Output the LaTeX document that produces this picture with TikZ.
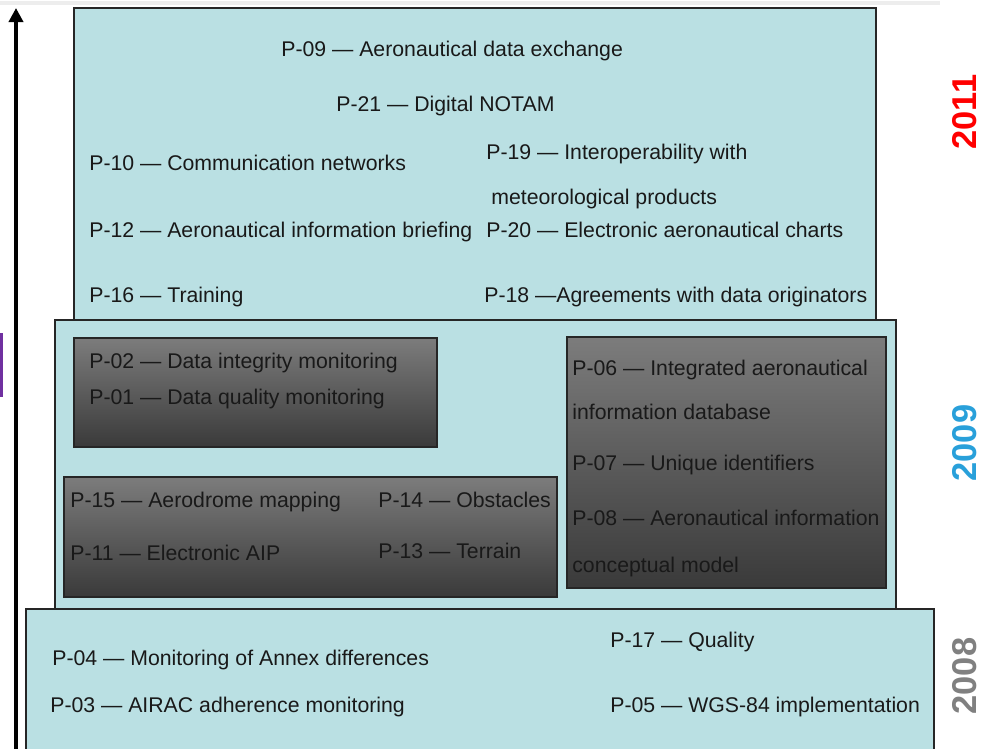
\documentclass[tikz,border=0pt]{standalone}
\usepackage{fontspec}
\setmainfont{Liberation Sans}
\usetikzlibrary{arrows.meta}
\definecolor{stagefill}{RGB}{186,224,227}
\definecolor{boxtop}{RGB}{124,124,124}
\definecolor{boxbot}{RGB}{58,58,58}
\definecolor{yearred}{RGB}{255,0,0}
\definecolor{yearblue}{RGB}{41,160,218}
\definecolor{yeargray}{RGB}{128,128,128}
\definecolor{tabpurple}{RGB}{112,48,160}
\tikzset{
  stagebox/.style={draw=black!85, line width=0.8pt, fill=stagefill},
  groupbox/.style={draw=black!85, line width=0.8pt, top color=boxtop, bottom color=boxbot},
  pitem/.style={anchor=base west, inner sep=0pt, font=\fontsize{12.1}{14}\selectfont, text=black!90},
  yearlabel/.style={rotate=90, inner sep=0pt, font=\fontsize{19.6}{22}\selectfont\bfseries},
}
\newcommand{\pnode}{\node[pitem]}
\newcommand{\yearnode}{\node[yearlabel]}

\begin{document}
\begin{tikzpicture}[x=0.02cm, y=-0.02cm]
  \useasboundingbox (0,0) rectangle (984,749);
  \fill[black!7] (0,1) rectangle (940,5);
  \fill[tabpurple] (0,333) rectangle (3,397);
  % stages
  \draw[stagebox] (74,8) rectangle (876,320);
  \draw[stagebox] (55,320) rectangle (896,609);
  \draw[stagebox] (26,609) rectangle (934,760);
  % groups of 2009
  \draw[groupbox] (74,338) rectangle (437,447);
  \draw[groupbox] (64,477) rectangle (557,597);
  \draw[groupbox] (567,337) rectangle (886,588);
  % time axis
  \coordinate (tbot) at (16,760);
  \coordinate (ttop) at (16,8);
  \draw[line width=2pt, -{Triangle[width=8pt,length=8pt]}] (tbot) -- (ttop);
  % 2011
  \pnode (p09) at (281,57) {P-09 — Aeronautical data exchange}; %
  \pnode (p21) at (336,112) {P-21 — Digital NOTAM}; %
  \pnode (p10) at (89,171) {P-10 — Communication networks};
  \pnode (p19) at (486,160) {P-19 — Interoperability with};
  \pnode (p19b) at (491,205) {meteorological products};
  \pnode (p12) at (89,238) {P-12 — Aeronautical information briefing};
  \pnode (p20) at (486,238) {P-20 — Electronic aeronautical charts};
  \pnode (p16) at (89,303) {P-16 — Training};
  \pnode (p18) at (484,303) {P-18 —Agreements with data originators};
  % 2009
  \pnode (p02) at (89,369) {P-02 — Data integrity monitoring};
  \pnode (p01) at (89,405) {P-01 — Data quality monitoring};
  \pnode (p06) at (572,376) {P-06 — Integrated aeronautical};
  \pnode (p06b) at (572,420) {information database};
  \pnode (p07) at (572,471) {P-07 — Unique identifiers};
  \pnode (p08) at (572,526) {P-08 — Aeronautical information};
  \pnode (p08b) at (572,573) {conceptual model};
  \pnode (p15) at (70,508) {P-15 — Aerodrome mapping};
  \pnode (p14) at (378,508) {P-14 — Obstacles};
  \pnode (p11) at (70,561) {P-11 — Electronic AIP};
  \pnode (p13) at (378,559) {P-13 — Terrain};
  % 2008
  \pnode (p04) at (52,665) {P-04 — Monitoring of Annex differences};
  \pnode (p03) at (50,712) {P-03 — AIRAC adherence monitoring};
  \pnode (p17) at (610,647) {P-17 — Quality};
  \pnode (p05) at (610,712) {P-05 — WGS-84 implementation};
  % years
  \yearnode[text=yearred] (y2011) at (965,112) {2011};
  \yearnode[text=yearblue] (y2009) at (965,443) {2009};
  \yearnode[text=yeargray] (y2008) at (965,676) {2008};
\end{tikzpicture}
\end{document}
